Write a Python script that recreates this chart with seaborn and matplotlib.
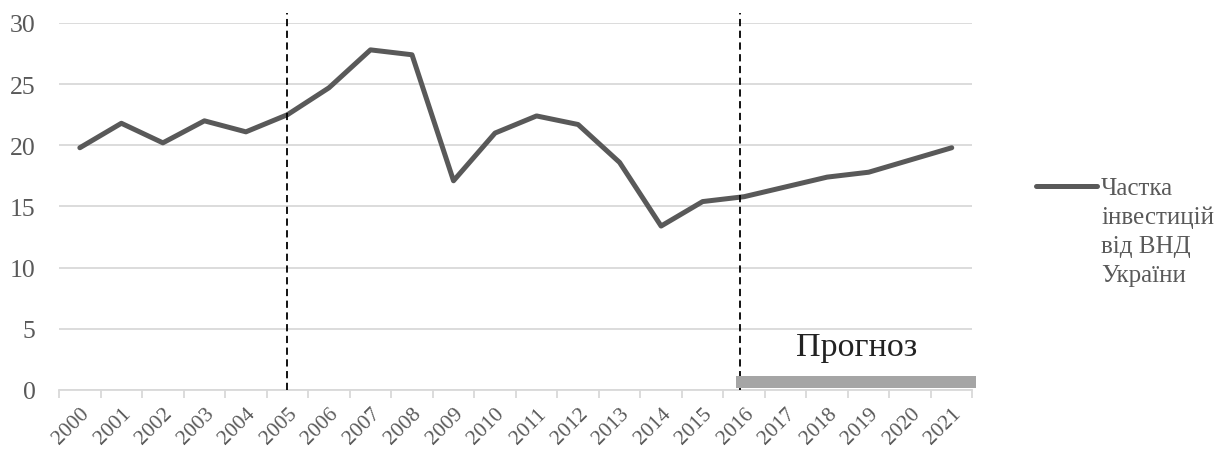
import matplotlib
matplotlib.use('Agg')
import matplotlib.pyplot as plt
import seaborn as sns
import pandas as pd
from matplotlib.patches import Rectangle
from matplotlib.ticker import MultipleLocator

# data
years = [str(y) for y in range(2000, 2022)]
share = [19.8, 21.8, 20.2, 22.0, 21.1, 22.5, 24.7, 27.8, 27.4, 17.1, 21.0,
         22.4, 21.7, 18.6, 13.4, 15.4, 15.8, 16.6, 17.4, 17.8, 18.8, 19.8]
series_label = 'Частка\nінвестицій\nвід ВНД\nУкраїни'
forecast_label = 'Прогноз'

df = pd.DataFrame({'year': years, 'share': share})

sns.set_theme(style='white')
plt.rcParams['font.family'] = ['Liberation Serif', 'DejaVu Serif']

grey_text = '#595959'
line_col = '#595959'
grid_col = '#d9d9d9'

fig = plt.figure(figsize=(12.31, 4.52), dpi=100)
ax = fig.add_axes([0.048, 0.135, 0.742, 0.812])

sns.lineplot(data=df, x='year', y='share', color=line_col, linewidth=3.6,
             ax=ax, label=series_label, sort=False)

ax.set_xlim(-0.5, len(years) - 0.5)
ax.set_ylim(0, 30)
ax.yaxis.set_major_locator(MultipleLocator(5))
ax.grid(axis='y', color=grid_col, linewidth=1.3)
ax.set_axisbelow(True)
for side in ['top', 'right', 'left']:
    ax.spines[side].set_visible(False)
ax.spines['bottom'].set_color(grid_col)
ax.spines['bottom'].set_linewidth(1.3)

ax.set_xlabel('')
ax.set_ylabel('')
ax.set_xticks(range(len(years)))
ax.set_xticklabels(years, rotation=45, ha='right', rotation_mode='anchor')
ax.set_xticks([i - 0.5 for i in range(len(years) + 1)], minor=True)
ax.tick_params(axis='x', which='major', length=0, pad=10, labelsize=15.5,
               labelcolor=grey_text)
ax.tick_params(axis='x', which='minor', length=6, width=1.3, color=grid_col,
               direction='out', bottom=True)
ax.tick_params(axis='y', length=0, pad=17, labelsize=18.5, labelcolor=grey_text)

# period separators
for xpos in [5, 15.9]:
    ax.plot([xpos, xpos], [0, 30.8], color='black', linestyle=(0, (4, 2.5)),
            linewidth=1.3, clip_on=False, zorder=3)

# forecast bar
ax.add_patch(Rectangle((15.8, 0.15), len(years) - 0.5 - 15.8 + 0.08, 1.0,
                       facecolor='#a5a5a5', edgecolor='none', clip_on=False,
                       zorder=4))
ax.text(18.7, 3.5, forecast_label, fontsize=24.5, color='#222222',
        ha='center', va='center')

ax.legend_.remove()
leg = fig.legend(loc='upper left', bbox_to_anchor=(0.8416, 0.607), frameon=False,
                 fontsize=18, handlelength=2.45, handletextpad=0.15,
                 borderpad=0, borderaxespad=0, labelcolor=grey_text)
for t in leg.get_texts():
    t.set_linespacing(1.4)
# lift the legend line to the first text row, as in the reference
hl = leg.legend_handles[0]
y0 = hl.get_ydata()
hl.set_ydata([y + 32 for y in y0])

fig.savefig('out.png', dpi=100)
